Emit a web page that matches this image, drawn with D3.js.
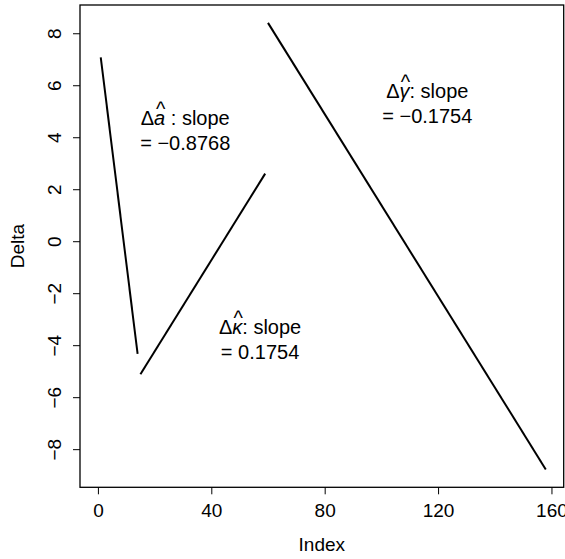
<!DOCTYPE html>
<html>
<head>
<meta charset="utf-8">
<script src="https://cdn.jsdelivr.net/npm/d3@7"></script>
<style>
  body { margin: 0; background: #fff; }
  svg { display: block; font-family: "Liberation Sans", Arial, Helvetica, sans-serif; }
</style>
</head>
<body>
<svg id="chart" width="565" height="559"></svg>
<script>
// segments of Delta vs Index
const indexA = [1, 14];
const deltaA = [7.07, -4.33];
const indexK = [15, 59];
const deltaK = [-5.12, 2.60];
const indexG = [60, 158];
const deltaG = [8.40, -8.78];

const xTicks = [0, 40, 80, 120, 160];
const yTicks = [-8, -6, -4, -2, 0, 2, 4, 6, 8];

// annotation text: symbol and slope value
const labelSyms = ["a", "\u03BA", "\u03B3"];
const labelGaps = [" : slope", ": slope", ": slope"];
const labelSlopes = ["= \u22120.8768", "= 0.1754", "= \u22120.1754"];
const labelIdx = [30.8, 57.2, 116.2];
const labelDelta = [4.46, -3.58, 5.5];

const svg = d3.select("#chart");
const width = +svg.attr("width");
const height = +svg.attr("height");
const margin = { top: 5, right: 1.3, bottom: 71.7, left: 80 };

// R style 4% axis extension
function pad(lo, hi) {
  const d = (hi - lo) * 0.04;
  return [lo - d, hi + d];
}

const x = d3.scaleLinear()
  .domain(pad(0, 158))
  .range([margin.left, width - margin.right]);

const y = d3.scaleLinear()
  .domain(pad(d3.min(deltaG), d3.max(deltaG)))
  .range([height - margin.bottom, margin.top]);

const fontSize = 19;
const annSize = 20;

// box
svg.append("rect")
  .attr("x", margin.left)
  .attr("y", margin.top)
  .attr("width", width - margin.left - margin.right)
  .attr("height", height - margin.top - margin.bottom)
  .attr("fill", "none")
  .attr("stroke", "#000")
  .attr("stroke-width", 1.3);

// x axis
const xAxis = svg.append("g")
  .attr("transform", `translate(0, ${height - margin.bottom})`)
  .call(d3.axisBottom(x).tickValues(xTicks).tickSize(7).tickPadding(9).tickFormat(d3.format("d")));
xAxis.select(".domain").remove();
xAxis.selectAll("text")
  .attr("font-size", fontSize)
  .attr("font-family", "Liberation Sans, Arial, sans-serif");

// y axis, labels rotated like R
const yAxis = svg.append("g")
  .attr("transform", `translate(${margin.left}, 0)`)
  .call(d3.axisLeft(y).tickValues(yTicks).tickSize(7).tickFormat(d => d < 0 ? "\u2212" + Math.abs(d) : d));
yAxis.select(".domain").remove();
yAxis.selectAll("text")
  .attr("font-size", fontSize)
  .attr("font-family", "Liberation Sans, Arial, sans-serif")
  .attr("x", null)
  .attr("dy", null)
  .attr("text-anchor", "middle")
  .attr("transform", "translate(-19, 0) rotate(-90)")
  .attr("y", 0);

svg.append("text")
  .attr("x", (margin.left + width - margin.right) / 2)
  .attr("y", 551)
  .attr("text-anchor", "middle")
  .attr("font-size", fontSize)
  .text("Index");

svg.append("text")
  .attr("transform", `translate(24, ${(margin.top + height - margin.bottom) / 2}) rotate(-90)`)
  .attr("text-anchor", "middle")
  .attr("font-size", fontSize)
  .text("Delta");

// lines
const line = d3.line().x(d => x(d[0])).y(d => y(d[1]));
const segments = [
  d3.zip(indexA, deltaA),
  d3.zip(indexK, deltaK),
  d3.zip(indexG, deltaG)
];
svg.selectAll(".seg")
  .data(segments)
  .enter()
  .append("path")
  .attr("class", "seg")
  .attr("d", line)
  .attr("fill", "none")
  .attr("stroke", "#000")
  .attr("stroke-width", 2);

// annotations, hat drawn inside the same text as a raised tspan
labelSyms.forEach((sym, i) => {
  const cx = x(labelIdx[i]);
  const cy = y(labelDelta[i]);
  const t = svg.append("text")
    .attr("x", cx)
    .attr("y", cy)
    .attr("text-anchor", "middle")
    .attr("font-size", annSize);
  t.append("tspan").text("\u0394");
  const letter = t.append("tspan").attr("font-style", "italic").text(sym);
  const hat = t.append("tspan").attr("dy", -9).text("^");
  const rest = t.append("tspan").attr("dy", 9).text(labelGaps[i]);

  const w = letter.node().getComputedTextLength();
  const h = hat.node().getComputedTextLength();
  hat.attr("dx", -w / 2 - h / 2 + 1);
  rest.attr("dx", w / 2 - h / 2 - 1);

  svg.append("text")
    .attr("x", cx)
    .attr("y", cy + 25)
    .attr("text-anchor", "middle")
    .attr("font-size", annSize)
    .text(labelSlopes[i]);
});
</script>
</body>
</html>
